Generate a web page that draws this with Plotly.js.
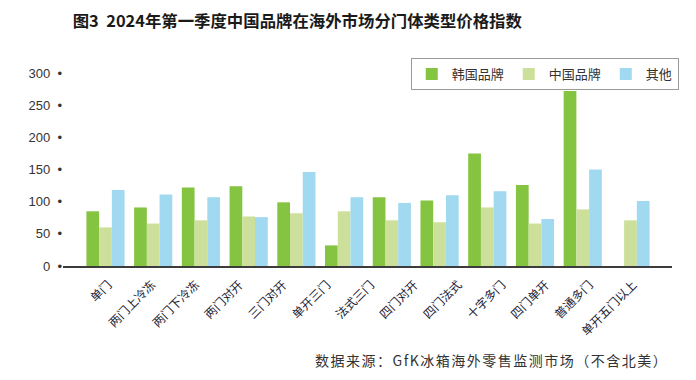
<!DOCTYPE html>
<html>
<head>
<meta charset="utf-8">
<script src="https://cdn.plot.ly/plotly-3.0.1.min.js"></script>
<style>
html,body{margin:0;padding:0;background:#fff;}
#chart{width:696px;height:380px;}
</style>
</head>
<body>
<div id="chart"></div>
<script>
// Tick labels (13 labels as printed under the axis)
const categories = ["单门","两门上冷冻","两门下冷冻","两门对开","三门对开","单开三门","法式三门","四门对开","四门法式","十字多门","四门单开","普通多门","单开五门以上"];
// Bar groups as drawn (12 groups)
const korea = [85, 91, 122, 124, 99, 32, 107, 102, 175, 126, 272, null];
const china = [60, 66, 71, 77, 82, 85, 71, 68, 91, 66, 88, 71];
const other = [118, 111, 107, 76, 146, 107, 98, 110, 116, 73, 150, 101];
const seriesNames = ["韩国品牌","中国品牌","其他"];
const yTicks = [0, 50, 100, 150, 200, 250, 300];

const colors = ["#85C441", "#CDE09B", "#A1D9F1"];
const groupIdx = korea.map((_, i) => i);
const nGroups = groupIdx.length;
const tickPos = categories.map((_, i) => 0.06 + i * (nGroups - 1) / (categories.length - 1));

const traces = [korea, china, other].map((vals, k) => ({
  type: "bar",
  name: seriesNames[k],
  x: groupIdx,
  y: vals,
  marker: {color: colors[k], line: {width: 0}},
  hoverinfo: "skip"
}));

const layout = {
  width: 696, height: 380,
  margin: {l: 63, r: 24, t: 73, b: 114},
  paper_bgcolor: "#fff", plot_bgcolor: "#fff",
  barmode: "group",
  bargap: 0.2,
  bargroupgap: 0,
  font: {family: "'Noto Sans CJK SC', 'Liberation Sans', sans-serif", color: "#222"},
  title: {
    text: "图3  2024年第一季度中国品牌在海外市场分门体类型价格指数",
    font: {family: "'Noto Sans CJK SC', sans-serif", size: 16.4, color: "#1a1a1a", weight: "bold"},
    x: 0.016, xanchor: "left", xref: "paper",
    y: 0.945, yanchor: "middle", yref: "container"
  },
  xaxis: {
    range: [-0.89, 11.87],
    tickmode: "array",
    tickvals: tickPos,
    ticktext: categories,
    tickangle: -45,
    ticklabelstandoff: 5,
    tickfont: {size: 12, color: "#1c2235", family: "'Noto Sans CJK SC', sans-serif"},
    showgrid: false, zeroline: false,
    showline: true, linecolor: "#3c3c3c", linewidth: 2,
    ticks: "", automargin: false, fixedrange: true
  },
  yaxis: {
    range: [0, 300],
    tickmode: "array",
    tickvals: yTicks,
    ticktext: yTicks.map(v => v + "\u00a0\u00a0•"),
    tickfont: {size: 13, color: "#333", family: "'Liberation Sans', Arial, sans-serif"},
    showgrid: false, zeroline: false, showline: false,
    ticks: "", automargin: false, fixedrange: true
  },
  legend: {
    orientation: "h",
    x: 0.571, xanchor: "left",
    y: 1.078, yanchor: "top",
    bgcolor: "#fff",
    bordercolor: "#9a9a9a", borderwidth: 1,
    font: {size: 13, color: "#333", family: "'Noto Sans CJK SC', sans-serif"},
    traceorder: "normal"
  },
  annotations: [{
    text: "<span style=\"letter-spacing:1.5px\">数据来源：GfK冰箱海外零售监测市场（不含北美）</span>",
    xref: "paper", yref: "paper",
    x: 0.997, xanchor: "right",
    y: -0.485, yanchor: "middle",
    showarrow: false,
    font: {size: 14, color: "#333", family: "'Noto Sans CJK SC', sans-serif"}
  }],
  showlegend: true
};

Plotly.newPlot("chart", traces, layout, {displayModeBar: false, staticPlot: true});
</script>
</body>
</html>
